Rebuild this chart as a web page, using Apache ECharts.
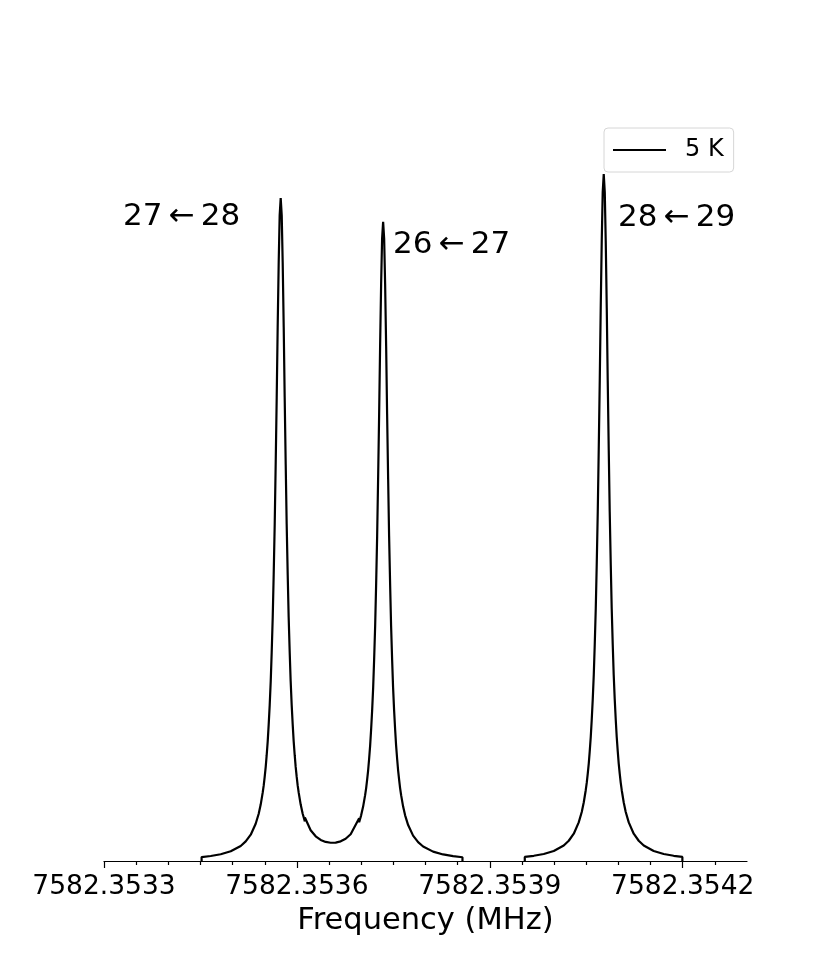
<!DOCTYPE html>
<html>
<head>
<meta charset="utf-8">
<title>Spectrum 5 K</title>
<script src="https://cdn.jsdelivr.net/npm/echarts@6/dist/echarts.min.js"></script>
<style>
  html, body { margin: 0; padding: 0; background: #fff; }
  #chart { width: 830px; height: 969px; }
</style>
</head>
<body>
<div id="chart"></div>
<script>
// 频率 (MHz) 与强度 (任意单位), 读自原图
// 第一段: 27<-28 与 26<-27 两条谱线
const freqA = [
  7582.3534518, 7582.3534518, 7582.3534660, 7582.3534815, 7582.3534971, 7582.3535126,
  7582.3535204, 7582.3535282, 7582.3535359, 7582.3535406, 7582.3535437, 7582.3535468,
  7582.3535484, 7582.3535499, 7582.3535515, 7582.3535530, 7582.3535546, 7582.3535561,
  7582.3535577, 7582.3535593, 7582.3535608, 7582.3535624, 7582.3535639, 7582.3535655,
  7582.3535670, 7582.3535686, 7582.3535701, 7582.3535717, 7582.3535732, 7582.3535748,
  7582.3535764, 7582.3535779, 7582.3535795, 7582.3535810, 7582.3535826, 7582.3535841,
  7582.3535857, 7582.3535872, 7582.3535888, 7582.3535903, 7582.3535919, 7582.3535935,
  7582.3535950, 7582.3535966, 7582.3535981, 7582.3535997, 7582.3536012, 7582.3536028,
  7582.3536059, 7582.3536090, 7582.3536124, 7582.3536124, 7582.3536214, 7582.3536292,
  7582.3536370, 7582.3536447, 7582.3536525, 7582.3536603, 7582.3536681, 7582.3536758,
  7582.3536836, 7582.3536968, 7582.3536968, 7582.3536999, 7582.3537030, 7582.3537061,
  7582.3537077, 7582.3537092, 7582.3537108, 7582.3537123, 7582.3537139, 7582.3537154,
  7582.3537170, 7582.3537186, 7582.3537201, 7582.3537217, 7582.3537232, 7582.3537248,
  7582.3537263, 7582.3537279, 7582.3537294, 7582.3537310, 7582.3537325, 7582.3537341,
  7582.3537357, 7582.3537372, 7582.3537388, 7582.3537403, 7582.3537419, 7582.3537434,
  7582.3537450, 7582.3537465, 7582.3537481, 7582.3537496, 7582.3537512, 7582.3537528,
  7582.3537543, 7582.3537559, 7582.3537574, 7582.3537590, 7582.3537605, 7582.3537621,
  7582.3537652, 7582.3537683, 7582.3537730, 7582.3537807, 7582.3537885, 7582.3537963,
  7582.3538118, 7582.3538274, 7582.3538429, 7582.3538575, 7582.3538575
]
const intensA = [
  0,      0.0053, 0.0067, 0.0091, 0.0131, 0.0202,
  0.0263, 0.0353, 0.0500, 0.0635, 0.0757, 0.0917,
  0.1015, 0.1129, 0.1263, 0.1420, 0.1606, 0.1827,
  0.2093, 0.2414, 0.2802, 0.3272, 0.3841, 0.4524,
  0.5323, 0.6224, 0.7166, 0.8036, 0.8667, 0.8900,
  0.8667, 0.8036, 0.7166, 0.6224, 0.5323, 0.4524,
  0.3841, 0.3272, 0.2802, 0.2414, 0.2093, 0.1827,
  0.1606, 0.1420, 0.1263, 0.1129, 0.1015, 0.0917,
  0.0757, 0.0635, 0.0532, 0.0584, 0.0413, 0.0332,
  0.0283, 0.0256, 0.0245, 0.0247, 0.0264, 0.0299,
  0.0359, 0.0574, 0.0521, 0.0613, 0.0730, 0.0884,
  0.0979, 0.1089, 0.1218, 0.1369, 0.1548, 0.1761,
  0.2018, 0.2327, 0.2701, 0.3154, 0.3703, 0.4361,
  0.5132, 0.6000, 0.6909, 0.7747, 0.8355, 0.8580,
  0.8355, 0.7747, 0.6909, 0.6000, 0.5132, 0.4361,
  0.3703, 0.3154, 0.2701, 0.2327, 0.2018, 0.1761,
  0.1548, 0.1369, 0.1218, 0.1089, 0.0979, 0.0884,
  0.0730, 0.0613, 0.0482, 0.0341, 0.0253, 0.0195,
  0.0126, 0.0088, 0.0065, 0.0050, 0
]

// 第二段: 28<-29 谱线
const freqB = [
  7582.3539544, 7582.3539544, 7582.3539684, 7582.3539839, 7582.3539995, 7582.3540150,
  7582.3540228, 7582.3540306, 7582.3540383, 7582.3540430, 7582.3540461, 7582.3540492,
  7582.3540508, 7582.3540523, 7582.3540539, 7582.3540554, 7582.3540570, 7582.3540585,
  7582.3540601, 7582.3540617, 7582.3540632, 7582.3540648, 7582.3540663, 7582.3540679,
  7582.3540694, 7582.3540710, 7582.3540725, 7582.3540741, 7582.3540756, 7582.3540772,
  7582.3540788, 7582.3540803, 7582.3540819, 7582.3540834, 7582.3540850, 7582.3540865,
  7582.3540881, 7582.3540896, 7582.3540912, 7582.3540927, 7582.3540943, 7582.3540959,
  7582.3540974, 7582.3540990, 7582.3541005, 7582.3541021, 7582.3541036, 7582.3541052,
  7582.3541083, 7582.3541114, 7582.3541161, 7582.3541238, 7582.3541316, 7582.3541394,
  7582.3541549, 7582.3541705, 7582.3541860, 7582.3541995, 7582.3541995
]
const intensB = [
  0,      0.0055, 0.0070, 0.0094, 0.0135, 0.0209,
  0.0272, 0.0366, 0.0518, 0.0658, 0.0785, 0.0950,
  0.1052, 0.1170, 0.1308, 0.1472, 0.1664, 0.1893,
  0.2169, 0.2500, 0.2902, 0.3389, 0.3979, 0.4687,
  0.5514, 0.6448, 0.7424, 0.8325, 0.8978, 0.9220,
  0.8978, 0.8325, 0.7424, 0.6448, 0.5514, 0.4687,
  0.3979, 0.3389, 0.2902, 0.2500, 0.2169, 0.1893,
  0.1664, 0.1472, 0.1308, 0.1170, 0.1052, 0.0950,
  0.0785, 0.0658, 0.0518, 0.0366, 0.0272, 0.0209,
  0.0135, 0.0094, 0.0070, 0.0055, 0
]

// 刻度
const majorTicks = [7582.3533, 7582.3536, 7582.3539, 7582.3542]
const minorTicks = [
  7582.35335, 7582.3534, 7582.35345, 7582.3535, 7582.35355,
  7582.35365, 7582.3537, 7582.35375, 7582.3538, 7582.35385,
  7582.35395, 7582.354, 7582.35405, 7582.3541, 7582.35415,
  7582.35425
]
const xMin = 7582.3533
const xMax = 7582.3543

// 谱线标注
const lineLabels = ['27\u2009\u2190\u200928', '26\u2009\u2190\u200927', '28\u2009\u2190\u200929']

const zip = (xs, ys) => xs.map((x, i) => [x, ys[i]])

const chart = echarts.init(document.getElementById('chart'))

const font = 'DejaVu Sans'
const labelFont = '31px "DejaVu Sans"'

chart.setOption({
    animation: false,
    backgroundColor: '#fff',
    textStyle: { fontFamily: font },
    grid: { left: 104, right: 83, top: 116, bottom: 108 },
    legend: {
        data: [{ name: '5 K', icon: 'path://M0,0 H100 V4 H0 Z' }],
        left: 604,
        top: 128,
        orient: 'vertical',
        padding: [10, 10, 10, 9],
        itemWidth: 53,
        itemHeight: 2.2,
        borderColor: '#d6d6d6',
        borderWidth: 1,
        borderRadius: 4,
        backgroundColor: '#fff',
        itemStyle: { color: '#000' },
        textStyle: { fontSize: 24, color: '#000', fontFamily: font, padding: [0, 0, 0, 14] },
    },
    xAxis: [
        {
            type: 'value',
            min: xMin,
            max: xMax,
            name: 'Frequency (MHz)',
            nameLocation: 'middle',
            nameGap: 43,
            nameTextStyle: { fontSize: 30.5, color: '#000', fontFamily: font },
            axisLine: { show: true, lineStyle: { color: '#000', width: 1.2 } },
            axisTick: { show: true, customValues: majorTicks, length: 7, lineStyle: { color: '#000', width: 1.2 } },
            axisLabel: {
                customValues: majorTicks,
                fontSize: 26.5,
                color: '#000',
                fontFamily: font,
                margin: 13,
                formatter: (v) => v.toFixed(4),
            },
            splitLine: { show: false },
        },
        {
            type: 'value',
            min: xMin,
            max: xMax,
            position: 'bottom',
            axisLine: { show: false },
            axisTick: { show: true, customValues: minorTicks, length: 4, lineStyle: { color: '#000', width: 1.2 } },
            axisLabel: { show: false },
            splitLine: { show: false },
        },
    ],
    yAxis: {
        type: 'value',
        min: 0,
        max: 1,
        show: false,
    },
    graphic: [
        { type: 'text', x: 123, y: 217, style: { text: lineLabels[0], font: labelFont, fill: '#000', verticalAlign: 'middle' } },
        { type: 'text', x: 393, y: 245, style: { text: lineLabels[1], font: labelFont, fill: '#000', verticalAlign: 'middle' } },
        { type: 'text', x: 618, y: 218, style: { text: lineLabels[2], font: labelFont, fill: '#000', verticalAlign: 'middle' } },
    ],
    series: [
        {
            name: '5 K',
            type: 'line',
            data: zip(freqA, intensA),
            symbol: 'none',
            lineStyle: { color: '#000', width: 2.2 },
            itemStyle: { color: '#000' },
        },
        {
            name: '5 K',
            type: 'line',
            data: zip(freqB, intensB),
            symbol: 'none',
            lineStyle: { color: '#000', width: 2.2 },
            itemStyle: { color: '#000' },
        },
    ],
})

window.addEventListener('resize', () => chart.resize())
</script>
</body>
</html>
